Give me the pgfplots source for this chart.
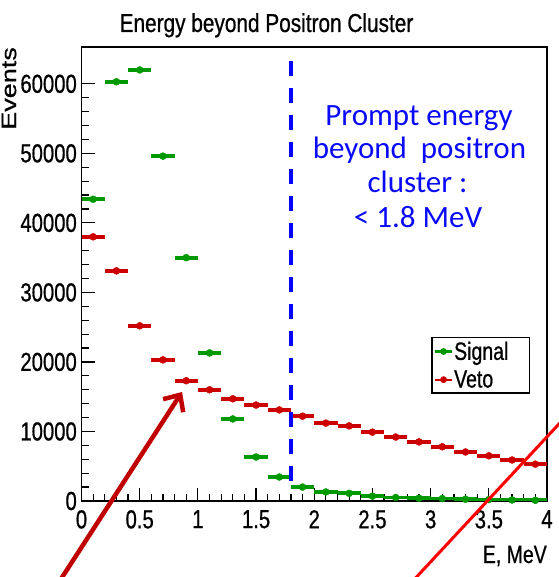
\documentclass[border=0pt]{standalone}
\usepackage{pgfplots}
\pgfplotsset{compat=1.18}
\usepackage{graphicx}
\usepackage{fontspec}
\setmainfont{Liberation Sans}
\newfontfamily\rootfont[FakeStretch=0.78,FakeBold=0.7]{Liberation Sans}
\newfontfamily\labfont[FakeStretch=0.78,FakeBold=0.7]{Liberation Sans}
\newfontfamily\titlefont[FakeStretch=0.80,FakeBold=0.7]{Liberation Sans}
\newfontfamily\evfont[FakeBold=0.6]{Liberation Sans}
\newfontfamily\calfont{Carlito}
\usetikzlibrary{arrows.meta}
\definecolor{sig}{RGB}{0,153,0}
\definecolor{veto}{RGB}{204,0,0}
\definecolor{arrowred}{RGB}{192,0,0}
\definecolor{txtblue}{RGB}{10,10,250}

\pgfplotstableread{
x y
0.1 43400
0.3 60300
0.5 62000
0.7 49600
0.9 35000
1.1 21300
1.3 11800
1.5 6330
1.7 3450
1.9 2000
2.1 1300
2.3 1100
2.5 700
2.7 500
2.9 400
3.1 350
3.3 250
3.5 200
3.7 150
3.9 100
}\signaltab

\pgfplotstableread{
x y
0.1 38000
0.3 33100
0.5 25200
0.7 20300
0.9 17300
1.1 16000
1.3 14700
1.5 13800
1.7 13100
1.9 12200
2.1 11200
2.3 10800
2.5 9900
2.7 9200
2.9 8500
3.1 7800
3.3 7050
3.5 6500
3.7 5900
3.9 5300
}\vetotab

\begin{document}
\begin{tikzpicture}
\useasboundingbox (-81.5pt,-76pt) rectangle (476.5pt,501pt);
\begin{axis}[
  at={(0pt,0pt)}, anchor=south west,
  scale only axis,
  width=465.5pt, height=454pt,
  xmin=0, xmax=4, ymin=0, ymax=65300,
  xtick={0,0.5,1,1.5,2,2.5,3,3.5,4},
  xticklabels={0,0.5,1,1.5,2,2.5,3,3.5,4},
  minor x tick num=4,
  ytick={0,10000,20000,30000,40000,50000,60000},
  yticklabels={0,10000,20000,30000,40000,50000,60000},
  minor y tick num=4,
  scaled y ticks=false,
  xtick pos=bottom, ytick pos=left,
  tick align=inside,
  major tick length=13pt, minor tick length=7pt,
  every tick/.style={black, line width=1.2pt},
  axis line style={line width=1.5pt},
  tick label style={font=\rootfont\fontsize{26}{30}\selectfont, inner sep=0pt},
  yticklabel style={xshift=-4.5pt},
  xticklabel style={yshift=-9pt},
  legend style={at={(axis description cs:0.963,0.361)}, anchor=north east,
    draw=black, line width=1.2pt, fill=white,
    font=\labfont\fontsize{25}{28}\selectfont,
    inner xsep=2pt, inner ysep=3pt, row sep=7pt,
    nodes={inner sep=1pt}},
  legend cell align=left,
  legend image code/.code={
    \draw[line width=2.2pt,#1] (0pt,0pt) -- (17pt,0pt);
    \fill[#1] (8.5pt,0pt) circle (2.8pt);
  },
]
\addplot[color=sig, only marks, mark=*, mark size=3.5pt,
  error bars/.cd, x dir=both, x fixed=0.1, error mark=none,
  error bar style={line width=3.8pt, color=sig}]
  table[x=x, y=y] {\signaltab};
\addlegendentry{\makebox[72pt][l]{Signal}}
\addplot[color=veto, only marks, mark=*, mark size=3.5pt,
  error bars/.cd, x dir=both, x fixed=0.1, error mark=none,
  error bar style={line width=3.8pt, color=veto}]
  table[x=x, y=y] {\vetotab};
\addlegendentry{\makebox[72pt][l]{Veto}}
\draw[blue, line width=4pt, dash pattern=on 15pt off 12pt]
  (axis cs:1.8,63300) -- (axis cs:1.8,2000);
\end{axis}
% title and axis titles
\node[anchor=base, inner sep=0pt, font=\titlefont\fontsize{26}{30}\selectfont]
  at (185pt,469pt) {Energy beyond Positron Cluster};
\node[anchor=north east, inner sep=0pt, font=\evfont\fontsize{27}{30}\selectfont]
  at (-65pt,454pt) {\rotatebox{90}{\scalebox{1}[0.78]{Events}}};
\node[anchor=base east, inner sep=0pt, font=\labfont\fontsize{25}{30}\selectfont]
  at (465.5pt,-62pt) {E, MeV};
% annotation text
\begin{scope}[every node/.style={anchor=base, inner sep=0pt, text=txtblue,
    font=\calfont\fontsize{31}{34}\selectfont}]
\node at (337.5pt,375pt) {Prompt energy};
\node at (338pt,342pt) {beyond\ \ positron};
\node at (336pt,308pt) {cluster :};
\node at (336.5pt,273pt) {< 1.8 MeV};
\end{scope}
% annotation arrows
\draw[arrowred, line width=4.5pt, -{Straight Barb[length=13pt,width=24pt]}]
  (-20.5pt,-78pt) -- (100.5pt,109pt);
\draw[red, line width=3pt] (330pt,-81.4pt) -- (481.5pt,81.4pt);
\end{tikzpicture}
\end{document}
